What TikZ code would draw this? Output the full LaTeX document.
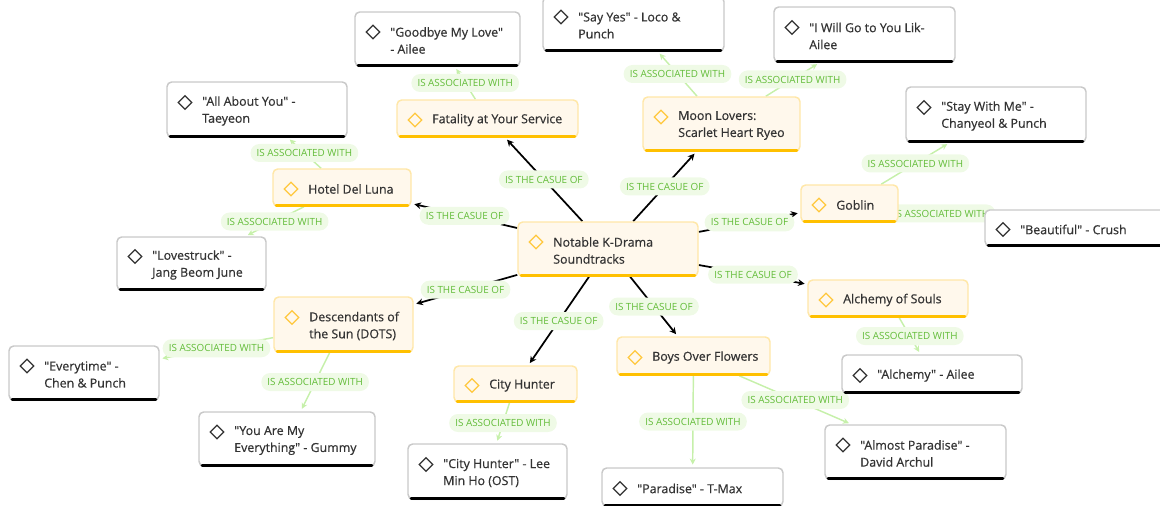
\documentclass[tikz,border=0pt]{standalone}
\usepackage{fontspec}
\setmainfont{Open Sans}[Ligatures=TeXOff]
\newfontfamily\nodefont{Open Sans}[Ligatures=TeXOff,FakeBold=0.5]
\usetikzlibrary{shapes.geometric,arrows.meta,fit,calc,shadows}
\pgfdeclarelayer{background}
\pgfsetlayers{background,main}
\definecolor{dfill}{HTML}{FFF8EC}
\definecolor{dborder}{HTML}{FFE7A8}
\definecolor{dbarc}{HTML}{FFC000}
\definecolor{diconc}{HTML}{FFC83D}
\definecolor{sborder}{HTML}{C9C9C9}
\definecolor{txt}{HTML}{333333}
\definecolor{lblfill}{HTML}{EFFAE6}
\definecolor{lbltxt}{HTML}{62BC38}
\definecolor{gline}{HTML}{C6F0AA}
\tikzset{
  boxbase/.style={rounded corners=3.5pt, inner sep=0pt, line width=1.1pt},
  dramabox/.style={boxbase, draw=dborder, fill=dfill},
  songbox/.style={boxbase, draw=sborder, fill=white, drop shadow={opacity=0.12,shadow xshift=0pt,shadow yshift=-0.8pt}},
  dbar/.style={draw=dbarc, line width=2.6pt, line cap=round},
  sbar/.style={draw=black, line width=2.6pt, line cap=round},
  dicon/.style={diamond, draw=diconc, line width=1pt, minimum width=10.5pt, minimum height=10.5pt, inner sep=0pt},
  sicon/.style={diamond, draw=txt, line width=0.9pt, minimum width=10.5pt, minimum height=10.5pt, inner sep=0pt},
  ntext/.style={anchor=west, align=left, text=txt, font=\nodefont\fontsize{9.3pt}{12.75pt}\selectfont, inner sep=0pt},
  lbl/.style={fill=lblfill, text=lbltxt, rounded corners=6.5pt, font=\fontsize{7.4pt}{8pt}\selectfont, inner xsep=4.6pt, inner ysep=2pt, minimum height=13.5pt},
  cause/.style={draw=black, line width=1.3pt, -{Stealth[length=5pt,width=5pt]}, shorten >=2pt},
  assoc/.style={draw=gline, line width=1.1pt, -{Stealth[length=4.5pt,width=4.5pt]}, shorten >=2pt},
}
\newcommand\kdrama[7]{%
  \node[dramabox, fit={(#2,#3) (#4,#5)}] (#1) {};
  \draw[dbar] ([xshift=3pt,yshift=0.9pt]#1.south west) -- ([xshift=-3pt,yshift=0.9pt]#1.south east);
  \pgfmathsetmacro\kyc{(#3+#5)/2+1.5}
  \node[dicon] (#1-icon) at (#2+18,\kyc-#7) {};
  \node[ntext] (#1-text) at (#2+35,\kyc) {#6};
}
\newcommand\ksong[7]{%
  \node[songbox, fit={(#2,#3) (#4,#5)}] (#1) {};
  \draw[sbar] ([xshift=3pt,yshift=0.9pt]#1.south west) -- ([xshift=-3pt,yshift=0.9pt]#1.south east);
  \pgfmathsetmacro\kyc{(#3+#5)/2+1.5}
  \node[sicon] (#1-icon) at (#2+18,\kyc-#7) {};
  \node[ntext] (#1-text) at (#2+35,\kyc) {#6};
}
\begin{document}
\begin{tikzpicture}[x=0.75pt,y=-0.75pt]
\useasboundingbox (0,0) rectangle (1160,506);
% central and dramas
\kdrama{c}{518}{222}{698}{276}{Notable K-Drama\\Soundtracks}{8.5}
\kdrama{fat}{397}{100}{578}{137}{Fatality at Your Service}{0}
\kdrama{moon}{643}{97}{800}{151}{Moon Lovers:\\Scarlet Heart Ryeo}{8.5}
\kdrama{hotel}{273}{169}{411}{206}{Hotel Del Luna}{0}
\kdrama{goblin}{801}{185}{898}{222}{Goblin}{0}
\kdrama{alch}{808}{280}{968}{317}{Alchemy of Souls}{0}
\kdrama{dots}{274}{297}{413}{352}{Descendants of\\the Sun (DOTS)}{8.5}
\kdrama{city}{454}{366}{577}{402}{City Hunter}{0}
\kdrama{boys}{617}{337}{770}{375}{Boys Over Flowers}{0}
% songs
\ksong{goodbye}{355}{12}{520}{66}{"Goodbye My Love"\\- Ailee}{8.5}
\ksong{sayyes}{543}{-3}{724}{51}{"Say Yes" - Loco \&\\Punch}{8.5}
\ksong{iwill}{774}{7}{955}{62}{"I Will Go to You Lik-\\Ailee}{8.5}
\ksong{allabout}{167}{82}{347}{137}{"All About You" -\\Taeyeon}{8.5}
\ksong{stay}{906}{87}{1086}{142}{"Stay With Me" -\\Chanyeol \& Punch}{8.5}
\ksong{beautiful}{985}{210}{1166}{246}{"Beautiful" - Crush}{0}
\ksong{lovestruck}{117}{237}{266}{290}{"Lovestruck" -\\Jang Beom June}{8.5}
\ksong{everytime}{9}{346}{159}{400}{"Everytime" -\\Chen \& Punch}{8.5}
\ksong{youare}{199}{412}{375}{466}{"You Are My\\Everything" - Gummy}{8.5}
\ksong{chsong}{408}{444}{567}{499}{"City Hunter" - Lee\\Min Ho (OST)}{8.5}
\ksong{paradise}{602}{468}{783}{506}{"Paradise" - T-Max}{0}
\ksong{almost}{825}{425}{1006}{479}{"Almost Paradise" -\\David Archul}{8.5}
\ksong{alchemy}{842}{355}{1022}{393}{"Alchemy" - Ailee}{0}
\begin{pgfonlayer}{background}
\draw[cause] (c) -- node[lbl]{IS THE CASUE OF} (fat);
\draw[cause] (c) -- node[lbl]{IS THE CASUE OF} (moon);
\draw[cause] (c) -- node[lbl]{IS THE CASUE OF} (hotel);
\draw[cause] (c) -- node[lbl]{IS THE CASUE OF} (goblin);
\draw[cause] (c) -- node[lbl]{IS THE CASUE OF} (alch);
\draw[cause] (c) -- node[lbl]{IS THE CASUE OF} (dots);
\draw[cause] (c) -- node[lbl]{IS THE CASUE OF} (city);
\draw[cause] (c) -- node[lbl]{IS THE CASUE OF} (boys);
\draw[assoc] (fat) -- node[lbl]{IS ASSOCIATED WITH} (goodbye);
\draw[assoc] (moon) -- node[lbl]{IS ASSOCIATED WITH} (sayyes);
\draw[assoc] (moon) -- node[lbl]{IS ASSOCIATED WITH} (iwill);
\draw[assoc] (hotel) -- node[lbl]{IS ASSOCIATED WITH} (allabout);
\draw[assoc] (hotel) -- node[lbl]{IS ASSOCIATED WITH} (lovestruck);
\draw[assoc] (goblin) -- node[lbl]{IS ASSOCIATED WITH} (stay);
\draw[assoc] (goblin) -- node[lbl]{IS ASSOCIATED WITH} (beautiful);
\draw[assoc] (alch) -- node[lbl]{IS ASSOCIATED WITH} (alchemy);
\draw[assoc] (dots) -- node[lbl]{IS ASSOCIATED WITH} (everytime);
\draw[assoc] (dots) -- node[lbl]{IS ASSOCIATED WITH} (youare);
\draw[assoc] (city) -- node[lbl]{IS ASSOCIATED WITH} (chsong);
\draw[assoc] (boys) -- node[lbl]{IS ASSOCIATED WITH} (paradise);
\draw[assoc] (boys) -- node[lbl]{IS ASSOCIATED WITH} (almost);
\end{pgfonlayer}
\end{tikzpicture}
\end{document}
